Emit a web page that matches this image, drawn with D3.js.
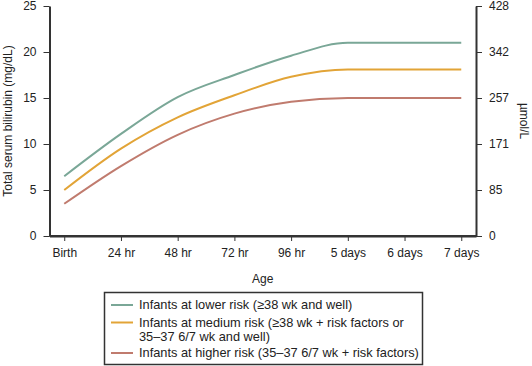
<!DOCTYPE html>
<html>
<head>
<meta charset="utf-8">
<script src="https://cdn.jsdelivr.net/npm/d3@7"></script>
<style>
  body { margin: 0; background: #fff; }
  svg text { font-family: "Liberation Sans", Arial, sans-serif; fill: #222; }
</style>
</head>
<body>
<div id="chart"></div>
<script>
// data
const ages = ["Birth", "24 hr", "48 hr", "72 hr", "96 hr", "5 days", "6 days", "7 days"];
const lowerRisk  = [6.5, 11.1, 15.1, 17.5, 19.6, 21.0, 21.0, 21.0];
const mediumRisk = [5.0, 9.5, 12.9, 15.3, 17.3, 18.1, 18.1, 18.1];
const higherRisk = [3.5, 7.6, 11.0, 13.3, 14.6, 15.0, 15.0, 15.0];
const leftTicks = [0, 5, 10, 15, 20, 25];
const rightTicks = ["0", "85", "171", "257", "342", "428"];
const legendLabels = [
  ["Infants at lower risk (\u226538 wk and well)"],
  ["Infants at medium risk (\u226538 wk + risk factors or", "35\u201337 6/7 wk and well)"],
  ["Infants at higher risk (35\u201337 6/7 wk + risk factors)"]
];
const colors = ["#7aa797", "#e2a437", "#c07b6e"];

const width = 532, height = 366;
const margin = { left: 49.5, right: 476, top: 6, bottom: 236 };

const svg = d3.select("#chart").append("svg")
    .attr("width", width)
    .attr("height", height);

let x = d3.scalePoint().domain(ages).range([margin.left, margin.right]).padding(0.26);
let y = d3.scaleLinear().domain([0, 25]).range([margin.bottom, margin.top]);

// left axis
let gl = svg.append("g")
    .attr("transform", "translate(" + margin.left + ",0)")
    .call(d3.axisLeft(y).tickValues(leftTicks).tickSize(6).tickPadding(7).tickSizeOuter(0));

// right axis, same scale, µmol/L labels
let gr = svg.append("g")
    .attr("transform", "translate(" + margin.right + ",0)")
    .call(d3.axisRight(y).tickValues(leftTicks).tickSize(6).tickPadding(7).tickSizeOuter(0)
        .tickFormat((d, i) => rightTicks[i]));

// bottom axis
let gb = svg.append("g")
    .attr("transform", "translate(0," + margin.bottom + ")")
    .call(d3.axisBottom(x).tickSize(5).tickPadding(7).tickSizeOuter(0));

svg.append("line")
    .attr("x1", margin.left).attr("x2", margin.right)
    .attr("y1", margin.bottom).attr("y2", margin.bottom)
    .attr("stroke", "#333").attr("stroke-width", 2);

[gl, gr, gb].forEach(g => {
    g.select(".domain").attr("stroke", "#333").attr("stroke-width", 2);
    g.selectAll(".tick line").attr("stroke", "#333");
    g.selectAll("text").style("font-size", "12px");
});

// axis titles
svg.append("text")
    .attr("transform", "translate(12," + (margin.top + margin.bottom) / 2 + ") rotate(-90)")
    .attr("text-anchor", "middle")
    .style("font-size", "12px")
    .text("Total serum bilirubin (mg/dL)");

svg.append("text")
    .attr("transform", "translate(520," + (margin.top + margin.bottom) / 2 + ") rotate(90)")
    .attr("text-anchor", "middle")
    .style("font-size", "12px")
    .text("\u00b5mol/L");

svg.append("text")
    .attr("x", (margin.left + margin.right) / 2)
    .attr("y", 283)
    .attr("text-anchor", "middle")
    .style("font-size", "12px")
    .text("Age");

// curves
let line = d3.line()
    .x((d, i) => x(ages[i]))
    .y(d => y(d))
    .curve(d3.curveMonotoneX);

[lowerRisk, mediumRisk, higherRisk].forEach((s, k) => {
    svg.append("path")
        .datum(s)
        .attr("d", line)
        .attr("fill", "none")
        .attr("stroke", colors[k])
        .attr("stroke-width", 2);
});

// legend
let lg = svg.append("g");
lg.append("rect")
    .attr("x", 104.5).attr("y", 292.5)
    .attr("width", 318).attr("height", 72)
    .attr("fill", "#fff").attr("stroke", "#333").attr("stroke-width", 1.5);

let rowY = [305, 322.5, 353];
legendLabels.forEach((lines, k) => {
    lg.append("line")
        .attr("x1", 111).attr("x2", 133)
        .attr("y1", rowY[k]).attr("y2", rowY[k])
        .attr("stroke", colors[k]).attr("stroke-width", 2);
    lines.forEach((t, j) => {
        lg.append("text")
            .attr("x", 139)
            .attr("y", rowY[k] + j * 14)
            .attr("dy", "0.35em")
            .style("font-size", "12.8px")
            .text(t);
    });
});
</script>
</body>
</html>
